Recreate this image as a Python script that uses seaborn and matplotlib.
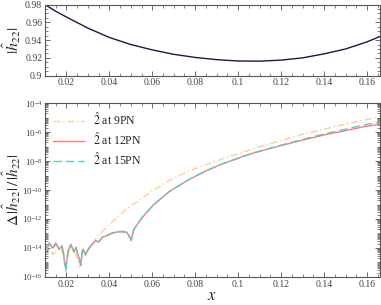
import numpy as np
import pandas as pd
import matplotlib
matplotlib.use("Agg")
import matplotlib.pyplot as plt
import seaborn as sns
from matplotlib.ticker import LogLocator, LogFormatterMathtext, NullFormatter, MultipleLocator

# top panel: |h22| vs x
x_top = [0.010, 0.015, 0.020, 0.030, 0.040, 0.050, 0.060, 0.070, 0.080, 0.090,
         0.100, 0.110, 0.120, 0.130, 0.140, 0.150, 0.160, 0.166]
h22 = [0.980, 0.9725, 0.966, 0.9535, 0.943, 0.935, 0.929, 0.924, 0.9205, 0.918,
       0.9165, 0.9163, 0.9175, 0.920, 0.9245, 0.930, 0.938, 0.944]

# bottom panel: log10 of relative error
x_err = [0.0105, 0.012, 0.0135, 0.0151, 0.0165, 0.018, 0.0197, 0.021, 0.0221, 0.0235,
         0.0244, 0.0267, 0.0275, 0.029, 0.0305, 0.0314, 0.0337, 0.035, 0.0367, 0.039,
         0.0413, 0.0436, 0.046, 0.0483, 0.0502, 0.0513, 0.055, 0.0607, 0.068, 0.0762,
         0.084, 0.0917, 0.100, 0.107, 0.1196, 0.1288, 0.140, 0.150, 0.158, 0.166]
log_12pn = [-14.1, -13.65, -14.0, -13.65, -14.1, -13.85, -15.4, -14.1, -13.75, -14.3,
            -13.95, -15.1, -14.1, -14.45, -14.0, -13.85, -13.5, -13.6, -13.25, -13.15,
            -12.95, -12.9, -12.85, -12.95, -13.5, -12.75, -11.95, -11.0, -10.1, -9.35,
            -8.75, -8.25, -7.8, -7.45, -6.95, -6.6, -6.2, -5.9, -5.65, -5.45]
log_15pn = [-14.0, -13.7, -14.05, -13.75, -14.0, -13.9, -15.6, -14.0, -13.8, -14.25,
            -14.0, -15.2, -14.0, -14.5, -14.05, -13.8, -13.55, -13.55, -13.3, -13.1,
            -13.0, -12.85, -12.9, -12.9, -13.45, -12.75, -11.95, -11.0, -10.1, -9.35,
            -8.75, -8.25, -7.8, -7.44, -6.92, -6.55, -6.13, -5.8, -5.53, -5.3]

x_9pn = [0.0105, 0.012, 0.0137, 0.017, 0.0197, 0.022, 0.0244, 0.0262, 0.0275, 0.0314,
         0.036, 0.0406, 0.0453, 0.050, 0.055, 0.0607, 0.068, 0.0762, 0.084, 0.0917,
         0.100, 0.107, 0.1196, 0.1288, 0.140, 0.150, 0.158, 0.166]
log_9pn = [-14.2, -13.8, -14.45, -14.0, -14.6, -13.9, -14.4, -15.3, -14.6, -13.8,
           -12.95, -12.3, -11.65, -11.1, -10.6, -10.0, -9.35, -8.75, -8.3, -7.9,
           -7.5, -7.15, -6.6, -6.2, -5.8, -5.45, -5.2, -4.95]

labels = [r"$\hat{2}$ at 9PN", r"$\hat{2}$ at 12PN", r"$\hat{2}$ at 15PN"]
xticks = [0.02, 0.04, 0.06, 0.08, 0.1, 0.12, 0.14, 0.16]
xticklabels = ['0.02', '0.04', '0.06', '0.08', '0.1', '0.12', '0.14', '0.16']

sns.set_theme(style="ticks")
plt.rcParams['font.family'] = ['Liberation Serif', 'DejaVu Serif']
plt.rcParams['mathtext.fontset'] = 'stix'
plt.rcParams['xtick.direction'] = 'in'
plt.rcParams['ytick.direction'] = 'in'
plt.rcParams['axes.edgecolor'] = '#555555'
plt.rcParams['xtick.color'] = '#555555'
plt.rcParams['ytick.color'] = '#555555'
plt.rcParams['xtick.labelcolor'] = '#444444'
plt.rcParams['ytick.labelcolor'] = '#444444'
plt.rcParams['axes.linewidth'] = 0.8

fig = plt.figure(figsize=(3.81, 3.05), dpi=100)
ax1 = fig.add_axes([0.118, 0.752, 0.879, 0.233])
ax2 = fig.add_axes([0.118, 0.092, 0.879, 0.570])

df_top = pd.DataFrame({'x': x_top, 'h': h22})
sns.lineplot(data=df_top, x='x', y='h', ax=ax1, color='#1a1a40', lw=1.0)
ax1.set_xlim(0.01, 0.166)
ax1.set_ylim(0.9, 0.98)
ax1.set_yticks([0.9, 0.92, 0.94, 0.96, 0.98])
ax1.set_yticklabels(['0.9', '0.92', '0.94', '0.96', '0.98'])
ax1.set_xticks(xticks)
ax1.set_xticklabels(xticklabels)
ax1.xaxis.set_minor_locator(MultipleLocator(0.005))
ax1.yaxis.set_minor_locator(MultipleLocator(0.005))
ax1.set_xlabel('')
ax1.set_ylabel('')

df_9 = pd.DataFrame({'x': x_9pn, 'e': 10.0 ** np.array(log_9pn)})
df_12 = pd.DataFrame({'x': x_err, 'e': 10.0 ** np.array(log_12pn)})
df_15 = pd.DataFrame({'x': x_err, 'e': 10.0 ** np.array(log_15pn)})
sns.lineplot(data=df_9, x='x', y='e', ax=ax2, color='#ffcc99', lw=1.0,
             linestyle=(0, (5, 2, 1, 2)), label=labels[0])
sns.lineplot(data=df_12, x='x', y='e', ax=ax2, color='#ff7a7a', lw=1.0, label=labels[1])
sns.lineplot(data=df_15, x='x', y='e', ax=ax2, color='#5cc8c8', lw=1.0,
             linestyle=(0, (6, 3)), label=labels[2])
ax2.set_yscale('log')
ax2.set_xlim(0.01, 0.166)
ax2.set_ylim(1e-16, 1e-4)
ax2.set_yticks([10.0 ** k for k in range(-16, -3, 2)])
ax2.yaxis.set_major_formatter(LogFormatterMathtext())
ax2.yaxis.set_minor_locator(LogLocator(base=10, subs=np.arange(1, 10), numticks=100))
ax2.yaxis.set_minor_formatter(NullFormatter())
ax2.set_xticks(xticks)
ax2.set_xticklabels(xticklabels)
ax2.xaxis.set_minor_locator(MultipleLocator(0.005))
ax2.set_xlabel(r'$x$', fontsize=12)
ax2.xaxis.set_label_coords(0.5, -0.065)
ax2.set_ylabel('')
ax2.legend(loc='upper left', frameon=False, fontsize=8.5, handlelength=2.6,
           borderaxespad=0.3, labelspacing=0.3)

# y labels placed as figure text so they stay inside the canvas
fig.text(0.031, 0.8685, r'$|\hat{h}_{22}|$', rotation=90, ha='center', va='center',
         fontsize=11.5)
fig.text(0.030, 0.377, r'$\Delta\,|\hat{h}_{22}|\,/\,|\hat{h}_{22}|$', rotation=90,
         ha='center', va='center', fontsize=11)

for ax in (ax1, ax2):
    ax.tick_params(which='both', top=True, right=True, labelsize=7)
    ax.tick_params(which='major', length=3.5, width=0.6, pad=2)
    ax.tick_params(which='minor', length=2, width=0.5)
    for s in ax.spines.values():
        s.set_visible(True)
ax2.tick_params(axis='y', labelsize=6.5, pad=1.5)

fig.savefig('out.png', dpi=100)
